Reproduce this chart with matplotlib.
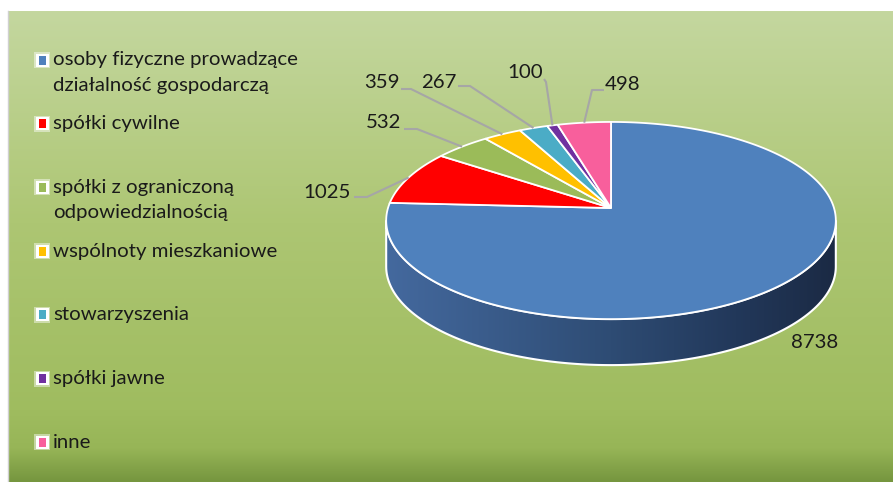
import numpy as np
import matplotlib
matplotlib.use("Agg")
import matplotlib.pyplot as plt
from matplotlib.patches import Polygon, Rectangle
from matplotlib.colors import LinearSegmentedColormap

# dane
kategorie = ["osoby fizyczne prowadzące\ndziałalność gospodarczą", "spółki cywilne",
             "spółki z ograniczoną\nodpowiedzialnością", "wspólnoty mieszkaniowe",
             "stowarzyszenia", "spółki jawne", "inne"]
wartosci = [8738, 1025, 532, 359, 267, 100, 498]
kolory = ["#4F81BD", "#FF0000", "#9BBB59", "#FFC000", "#4BACC6", "#7030A0", "#F85F9C"]

# uklad (piksele)
W, H = 893, 482
CX, CY = 611, 208          # srodek tortu
RX, RY = 223, 97           # polosie
PERSP = 0.127              # lekka perspektywa
DEPTH = 46                 # grubosc tortu
TXT = "#1A1A1A"
FONT = "Lato"
FS = 14.7

# pozycje etykiet: tekst, poczatek linii, zalamanie linii
label_pos = [(815, 342), (327, 193), (384, 123), (382, 83), (439, 82), (525, 72), (623, 85)]
leader = [None,
          ((354, 197), (367, 197)),
          ((404, 129), (417, 129)),
          ((401, 89), (411, 89)),
          ((458, 86), (470, 86)),
          ((544, 79), (546, 82)),
          ((604, 90), (592, 90))]


def proj(t, dy=0.0):
    s = 1 + PERSP * np.sin(t)
    return CX + RX * np.cos(t) / s, CY - RY * np.sin(t) / s + dy


fig = plt.figure(figsize=(W / 100, H / 100), dpi=100)
fig.patch.set_facecolor("white")
ax = fig.add_axes([0, 0, 1, 1])
ax.set_xlim(0, W)
ax.set_ylim(H, 0)
ax.axis("off")

# tlo - gradient pionowy
bg = LinearSegmentedColormap.from_list("bg", [(0, "#C4D79F"), (0.45, "#ADC673"), (0.85, "#9FBC5F"),
                                              (0.93, "#97B557"), (1.0, "#76963F")])
grad = np.linspace(0, 1, 256).reshape(-1, 1)
ax.imshow(grad, cmap=bg, extent=(8, W, H, 11), aspect="auto", origin="upper", zorder=0)
ax.plot([7.5, 7.5], [11, H], color="#D0D0D0", lw=1, zorder=1)

# bok tortu (widoczna czesc nalezy do pierwszego wycinka)
a = np.arcsin(PERSP)
ts = np.linspace(np.pi + a, 2 * np.pi - a, 200)
x_top, y_top = proj(ts)
x_bot, y_bot = proj(ts[::-1], DEPTH)
side_pts = np.column_stack([np.r_[x_top, x_bot], np.r_[y_top, y_bot]])
side = Polygon(side_pts, closed=True, facecolor="none", edgecolor="white", lw=1.5, zorder=3)
ax.add_patch(side)
side_cm = LinearSegmentedColormap.from_list("side", [(0, "#44699E"), (0.5, "#2E4C74"),
                                                    (0.78, "#22385A"), (1.0, "#1B2A44")])
im = ax.imshow(np.linspace(0, 1, 256).reshape(1, -1), cmap=side_cm, aspect="auto",
               extent=(side_pts[:, 0].min(), side_pts[:, 0].max(), side_pts[:, 1].max(), side_pts[:, 1].min()),
               zorder=2)
im.set_clip_path(side)

# gorna powierzchnia
total = sum(wartosci)
cum = np.r_[0, np.cumsum(wartosci)] / total
mids = []
for i, v in enumerate(wartosci):
    t0 = np.pi / 2 - 2 * np.pi * cum[i]
    t1 = np.pi / 2 - 2 * np.pi * cum[i + 1]
    tt = np.linspace(t0, t1, max(3, int(400 * (cum[i + 1] - cum[i]))))
    xs, ys = proj(tt)
    pts = np.column_stack([np.r_[CX, xs], np.r_[CY, ys]])
    ax.add_patch(Polygon(pts, closed=True, facecolor=kolory[i], edgecolor="white", lw=1.3, zorder=4))
    mids.append((t0 + t1) / 2)

# etykiety z wartosciami
for i, v in enumerate(wartosci):
    if leader[i] is not None:
        (sx, sy), (ex, ey) = leader[i]
        rx, ry = proj(mids[i])
        ax.plot([sx, ex, rx], [sy, ey, ry], color="#A6A6A6", lw=1.5, zorder=5, solid_capstyle="butt")
    ax.text(label_pos[i][0], label_pos[i][1], str(v), ha="center", va="center",
            fontsize=FS, color=TXT, family=FONT, zorder=6)

# legenda
for i, lab in enumerate(kategorie):
    y = 60 + i * 63.7
    ax.add_patch(Rectangle((34, y - 8), 16, 16, facecolor="white", edgecolor="none", alpha=0.45, zorder=5))
    ax.add_patch(Rectangle((35.5, y - 6.5), 13, 13, facecolor="white", edgecolor="none", zorder=5))
    ax.add_patch(Rectangle((38.5, y - 4.5), 7, 9, facecolor=kolory[i], edgecolor="none", zorder=6))
    for j, line in enumerate(lab.split("\n")):
        ax.text(53, y + 25 * j, line, ha="left", va="center", fontsize=FS,
                color=TXT, family=FONT, zorder=6)

fig.savefig("out.png", dpi=100, facecolor=fig.get_facecolor())
